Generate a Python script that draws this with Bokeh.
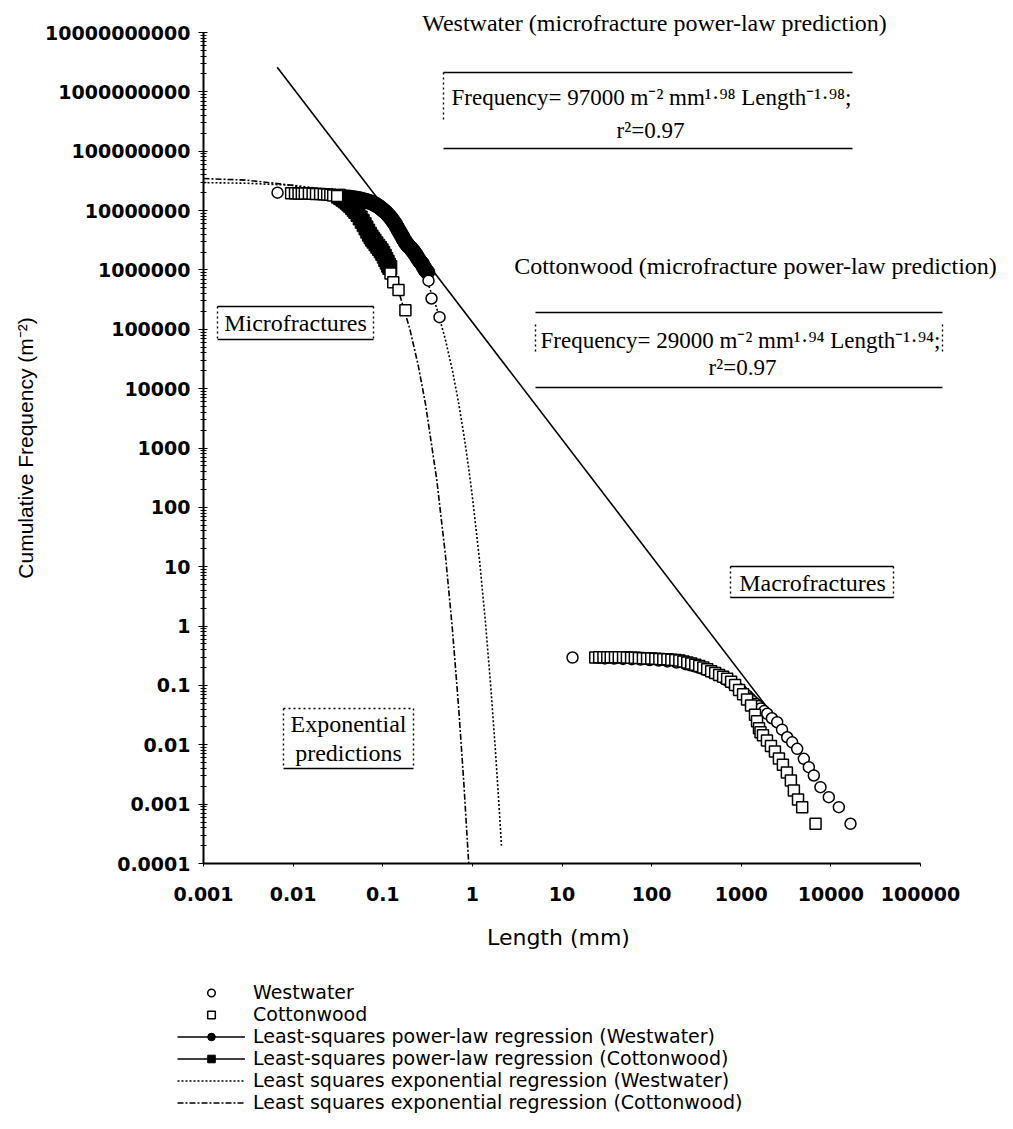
from bokeh.plotting import figure
from bokeh.models import FixedTicker, Label, Legend, LegendItem, CustomJSTickFormatter
from bokeh.embed import file_html
from bokeh.resources import INLINE

# ---------------- data ----------------
x_tick_vals = [0.001, 0.01, 0.1, 1, 10, 100, 1000, 10000, 100000]
x_tick_labels = ["0.001", "0.01", "0.1", "1", "10", "100", "1000", "10000", "100000"]
y_tick_vals = [1e-4, 1e-3, 1e-2, 1e-1, 1, 10, 100, 1e3, 1e4, 1e5, 1e6, 1e7, 1e8, 1e9, 1e10]
y_tick_labels = ["0.0001", "0.001", "0.01", "0.1", "1", "10", "100", "1000", "10000",
                 "100000", "1000000", "10000000", "100000000", "1000000000", "10000000000"]

# Westwater microfractures, isolated open circles
ww_micro_len = [0.0067, 0.324, 0.35, 0.43]
ww_micro_freq = [2.0e7, 6.6e5, 3.3e5, 1.6e5]
# Westwater microfractures, dense part of the distribution
ww_band_len = [0.034, 0.038, 0.042, 0.046, 0.050, 0.055, 0.060, 0.065, 0.070, 0.075, 0.080,
               0.085, 0.090, 0.095, 0.100, 0.106, 0.112, 0.118, 0.124, 0.130, 0.137, 0.144,
               0.151, 0.158, 0.165, 0.172, 0.180, 0.187, 0.195, 0.203, 0.211, 0.220, 0.228,
               0.236, 0.245, 0.255, 0.265, 0.276, 0.287, 0.300, 0.314]
ww_band_freq = [1.70e7, 1.68e7, 1.66e7, 1.63e7, 1.60e7, 1.56e7, 1.51e7, 1.46e7, 1.41e7, 1.36e7,
                1.30e7, 1.24e7, 1.17e7, 1.10e7, 1.03e7, 9.6e6, 8.8e6, 8.1e6, 7.4e6, 6.7e6,
                6.0e6, 5.25e6, 4.6e6, 4.1e6, 3.65e6, 3.25e6, 2.9e6, 2.7e6, 2.5e6, 2.35e6,
                2.2e6, 2.05e6, 1.9e6, 1.75e6, 1.6e6, 1.45e6, 1.35e6, 1.25e6, 1.12e6, 1.0e6, 9.2e5]
# Cottonwood microfractures, open squares
cw_micro_len = [0.0095, 0.0105, 0.0115, 0.0125, 0.0135, 0.015, 0.0165, 0.018, 0.020, 0.022,
                0.024, 0.026, 0.028, 0.031, 0.122, 0.131, 0.150, 0.179]
cw_micro_freq = [1.95e7, 1.95e7, 1.94e7, 1.94e7, 1.93e7, 1.93e7, 1.92e7, 1.91e7, 1.90e7, 1.88e7,
                 1.86e7, 1.84e7, 1.80e7, 1.76e7, 8.7e5, 6.2e5, 4.6e5, 2.1e5]
# Cottonwood microfractures, dense part of the distribution
cw_band_len = [0.032, 0.034, 0.036, 0.038, 0.040, 0.042, 0.044, 0.046, 0.048, 0.050, 0.053,
               0.056, 0.059, 0.062, 0.065, 0.068, 0.071, 0.074, 0.077, 0.080, 0.084, 0.088,
               0.092, 0.096, 0.100, 0.104, 0.108, 0.112, 0.116, 0.120]
cw_band_freq = [1.75e7, 1.65e7, 1.55e7, 1.46e7, 1.38e7, 1.29e7, 1.21e7, 1.13e7, 1.05e7, 9.7e6,
                8.6e6, 7.5e6, 6.6e6, 5.8e6, 5.1e6, 4.5e6, 4.0e6, 3.6e6, 3.3e6, 3.05e6, 2.75e6,
                2.5e6, 2.3e6, 2.1e6, 1.9e6, 1.7e6, 1.5e6, 1.35e6, 1.2e6, 1.1e6]
# Westwater macrofractures, open circles
ww_macro_len = [13.1, 30, 38, 48, 60, 75, 95, 120, 150, 190, 240, 270, 300, 335, 370, 410, 450,
                495, 540, 595, 650, 715, 780, 850, 920, 1000, 1080, 1170, 1260, 1350, 1450,
                1550, 1650, 1800, 1950, 2200, 2518, 2850, 3258, 3700, 4207, 4990, 5675, 6452,
                7656, 9480, 12270, 16560]
ww_macro_freq = [0.295, 0.285, 0.283, 0.28, 0.277, 0.273, 0.268, 0.262, 0.254, 0.243, 0.228,
                 0.219, 0.21, 0.2, 0.19, 0.18, 0.17, 0.16, 0.15, 0.139, 0.128, 0.118, 0.108,
                 0.099, 0.09, 0.082, 0.074, 0.067, 0.06, 0.054, 0.049, 0.045, 0.041, 0.037,
                 0.0333, 0.028, 0.024, 0.018, 0.0134, 0.011, 0.00855, 0.0058, 0.0042, 0.00304,
                 0.00193, 0.00131, 8.9e-4, 4.67e-4]
# Cottonwood macrofractures, open squares
cw_macro_len = [23.5, 26, 29, 32, 35, 39, 43, 48, 53, 59, 65, 72, 80, 89, 99, 110, 122, 135,
                150, 166, 184, 204, 226, 250, 277, 307, 340, 377, 417, 462, 512, 567, 628, 696,
                771, 854, 946, 1048, 1161, 1286, 1424, 1500, 1578, 1641, 1748, 1936, 2145, 2376,
                2632, 2916, 3230, 3578, 3864, 4300, 4786, 6745]
cw_macro_freq = [0.296, 0.298, 0.299, 0.299, 0.299, 0.299, 0.298, 0.297, 0.296, 0.294, 0.292,
                 0.289, 0.287, 0.285, 0.283, 0.281, 0.279, 0.277, 0.275, 0.271, 0.267, 0.262,
                 0.252, 0.243, 0.235, 0.224, 0.212, 0.2, 0.188, 0.173, 0.162, 0.15, 0.14, 0.129,
                 0.115, 0.102, 0.084, 0.071, 0.058, 0.046, 0.032, 0.025, 0.019, 0.0163, 0.0145,
                 0.0118, 0.0095, 0.0077, 0.0059, 0.0046, 0.0034, 0.0025, 0.0017, 0.0012, 8.9e-4,
                 4.67e-4]
# microfracture power-law prediction (Westwater), end points
pl_len = [0.00664, 2500]
pl_freq = [2.6e9, 0.026]
# exponential predictions
ewx_len = [0.001, 0.003, 0.01, 0.02, 0.03, 0.05, 0.08, 0.1, 0.15, 0.2, 0.3, 0.4, 0.5, 0.6, 0.7,
           0.8, 0.9, 1.0, 1.2, 1.4, 1.6, 1.8, 2.0, 2.11]
ewx_freq = [2.96e7, 2.89e7, 2.66e7, 2.35e7, 2.08e7, 1.63e7, 1.13e7, 8.86e6, 4.8e6, 2.62e6,
            7.7e5, 2.28e5, 6.7e4, 1.99e4, 5.9e3, 1.74e3, 514, 152, 13.2, 1.15, 0.1, 8.8e-3,
            7.7e-4, 2.0e-4]
ecw_len = [0.001, 0.003, 0.01, 0.02, 0.03, 0.05, 0.08, 0.1, 0.15, 0.2, 0.25, 0.3, 0.4, 0.5,
           0.6, 0.7, 0.8, 0.9, 0.91]
ecw_freq = [3.46e7, 3.26e7, 2.66e7, 1.98e7, 1.48e7, 8.25e6, 3.43e6, 1.91e6, 4.43e5, 1.03e5,
            2.38e4, 5.5e3, 297, 15.9, 0.855, 0.046, 2.47e-3, 1.32e-4, 1.0e-4]

# ---------------- layout ----------------
W, H = 997, 1113
LEFT, BOTTOM = 203, 863          # where the axes meet, canvas pixels
DEC_X = 717 / 8                  # pixels per decade along x
DEC_Y = 831 / 14                 # pixels per decade along y


def xd(px):
    return 10 ** (-3 + (px - LEFT) / DEC_X)


def yd(py):
    return 10 ** (-4 + (BOTTOM - py) / DEC_Y)


SERIF = "Liberation Serif"
SANS = "Liberation Sans"
WIDE = "DejaVu Sans"

# the frame covers the whole canvas; the axes are pinned where they meet
p = figure(width=W, height=H, x_axis_type="log", y_axis_type="log",
           x_range=(xd(0), xd(W)), y_range=(yd(H), yd(0)),
           output_backend="svg", toolbar_location=None,
           min_border_left=0, min_border_right=0, min_border_top=0, min_border_bottom=0)
p.outline_line_color = None
p.xgrid.visible = False
p.ygrid.visible = False
p.background_fill_color = "white"

minor = [k * 10.0 ** d for d in range(-4, 10) for k in range(2, 10)]
p.yaxis.ticker = FixedTicker(ticks=y_tick_vals, minor_ticks=minor)
p.xaxis.ticker = FixedTicker(ticks=x_tick_vals, minor_ticks=[])
p.yaxis.formatter = CustomJSTickFormatter(args=dict(labels=y_tick_labels),
                                          code="return labels[Math.round(Math.log10(tick)) + 4];")
p.xaxis.formatter = CustomJSTickFormatter(args=dict(labels=x_tick_labels),
                                          code="return labels[Math.round(Math.log10(tick)) + 3];")
p.xaxis.bounds = (x_tick_vals[0], x_tick_vals[-1])
p.yaxis.bounds = (y_tick_vals[0], y_tick_vals[-1])
p.xaxis.fixed_location = y_tick_vals[0]
p.yaxis.fixed_location = x_tick_vals[0]
for ax in (p.xaxis[0], p.yaxis[0]):
    ax.axis_line_width = 2
    ax.axis_line_color = "black"
    ax.major_tick_line_color = "black"
    ax.minor_tick_line_color = "black"
    ax.major_label_text_font = WIDE
    ax.major_label_text_font_style = "bold"
    ax.major_label_text_font_size = "19px"
    ax.major_label_text_color = "black"
    ax.axis_label_text_font_style = "normal"
    ax.axis_label_text_color = "black"
p.yaxis.major_tick_in = 4
p.yaxis.major_tick_out = 5
p.yaxis.minor_tick_in = 3
p.yaxis.minor_tick_out = 3
p.yaxis.major_label_standoff = 8
p.yaxis.axis_label = "Cumulative Frequency (m\u207b\u00b2)"
p.yaxis.axis_label_text_font = SANS
p.yaxis.axis_label_text_font_size = "21px"
p.yaxis.axis_label_standoff = 5
p.xaxis.major_tick_in = 0
p.xaxis.major_tick_out = 3
p.xaxis.minor_tick_in = 0
p.xaxis.minor_tick_out = 0
p.xaxis.major_label_standoff = 20
p.xaxis.axis_label = "Length  (mm)"
p.xaxis.axis_label_text_font = WIDE
p.xaxis.axis_label_text_font_size = "22px"
p.xaxis.axis_label_standoff = 21

# curves
r_pl = p.line(pl_len, pl_freq, line_color="black", line_width=1.6)
r_ewx = p.line(ewx_len, ewx_freq, line_color="black", line_width=1.6, line_dash="2 2")
r_ecw = p.line(ecw_len, ecw_freq, line_color="black", line_width=1.6, line_dash="6 2 2 2")

# data points
r_ww_band = p.scatter(ww_band_len, ww_band_freq, marker="circle", size=15,
                      fill_color="black", line_color="black")
r_cw_band = p.scatter(cw_band_len, cw_band_freq, marker="square", size=14,
                      fill_color="black", line_color="black")
r_ww = p.scatter(ww_micro_len, ww_micro_freq, marker="circle", size=11,
                 fill_color="white", line_color="black", line_width=1.5)
p.scatter(ww_macro_len, ww_macro_freq, marker="circle", size=11,
          fill_color="white", line_color="black", line_width=1.5)
r_cw = p.scatter(cw_micro_len, cw_micro_freq, marker="square", size=11,
                 fill_color="white", line_color="black", line_width=1.5)
p.scatter(cw_macro_len, cw_macro_freq, marker="square", size=11,
          fill_color="white", line_color="black", line_width=1.5)

# annotation boxes (canvas pixels):
# left, right, top, bottom, dotted sides, side top, side bottom, top edge solid?
boxes = [(443, 852, 72, 148, "L", 72, 122, True),
         (535, 942, 312, 387, "LR", 324, 354, True),
         (217, 373, 306, 339, "LR", 306, 339, True),
         (730, 893, 566, 597, "LR", 566, 597, True),
         (283, 413, 708, 768, "LR", 708, 768, False)]
sx0, sy0, sx1, sy1 = [], [], [], []
dx0, dy0, dx1, dy1 = [], [], [], []
for l, r, t, b, sides, st, sb, top_solid in boxes:
    sx0.append(xd(l)); sx1.append(xd(r)); sy0.append(yd(b)); sy1.append(yd(b))
    if top_solid:
        sx0.append(xd(l)); sx1.append(xd(r)); sy0.append(yd(t)); sy1.append(yd(t))
    else:
        dx0.append(xd(l)); dx1.append(xd(r)); dy0.append(yd(t)); dy1.append(yd(t))
    for xx in ([l] if sides == "L" else [l, r]):
        dx0.append(xd(xx)); dx1.append(xd(xx)); dy0.append(yd(st)); dy1.append(yd(sb))
p.segment(sx0, sy0, sx1, sy1, line_color="black", line_width=1.6)
p.segment(dx0, dy0, dx1, dy1, line_color="black", line_width=1.4, line_dash="2 3")


def label(px, py, txt, size="24px", align="center", font=SERIF):
    p.add_layout(Label(x=xd(px), y=yd(py), text=txt, text_align=align,
                       text_baseline="middle", text_font=font,
                       text_font_size=size, text_color="black"))


label(654, 22, "Westwater (microfracture power-law prediction)")
label(451, 97, "Frequency= 97000 m\u207b\u00b2 mm\u00b9\u00b7\u2079\u2078 Length\u207b\u00b9\u00b7\u2079\u2078;",
      align="left", size="23px")
label(650, 130, "r\u00b2=0.97", size="23px")
label(755, 265, "Cottonwood (microfracture power-law prediction)")
label(540, 340, "Frequency= 29000 m\u207b\u00b2 mm\u00b9\u00b7\u2079\u2074 Length\u207b\u00b9\u00b7\u2079\u2074;",
      align="left", size="23px")
label(742, 367, "r\u00b2=0.97", size="23px")
label(295, 322, "Microfractures")
label(812, 582, "Macrofractures")
label(348, 723, "Exponential")
label(348, 752, "predictions")

# legend, below the x axis (location = bottom-left corner, pixels from the canvas bottom-left)
legend = Legend(items=[
    LegendItem(label="Westwater", renderers=[r_ww]),
    LegendItem(label="Cottonwood", renderers=[r_cw]),
    LegendItem(label="Least-squares power-law regression (Westwater)", renderers=[r_pl, r_ww_band]),
    LegendItem(label="Least-squares power-law regression (Cottonwood)", renderers=[r_pl, r_cw_band]),
    LegendItem(label="Least squares exponential regression (Westwater)", renderers=[r_ewx]),
    LegendItem(label="Least squares exponential regression (Cottonwood)", renderers=[r_ecw]),
], location=(177, 0))
legend.label_text_font = WIDE
legend.label_text_font_size = "19px"
legend.label_text_color = "black"
legend.label_height = 19
legend.glyph_height = 19
legend.glyph_width = 68
legend.label_standoff = 8
legend.spacing = 0
legend.padding = 0
legend.margin = 0
legend.border_line_color = None
legend.background_fill_alpha = 0
p.add_layout(legend)

open("out.html", "w").write(file_html(p, INLINE))
